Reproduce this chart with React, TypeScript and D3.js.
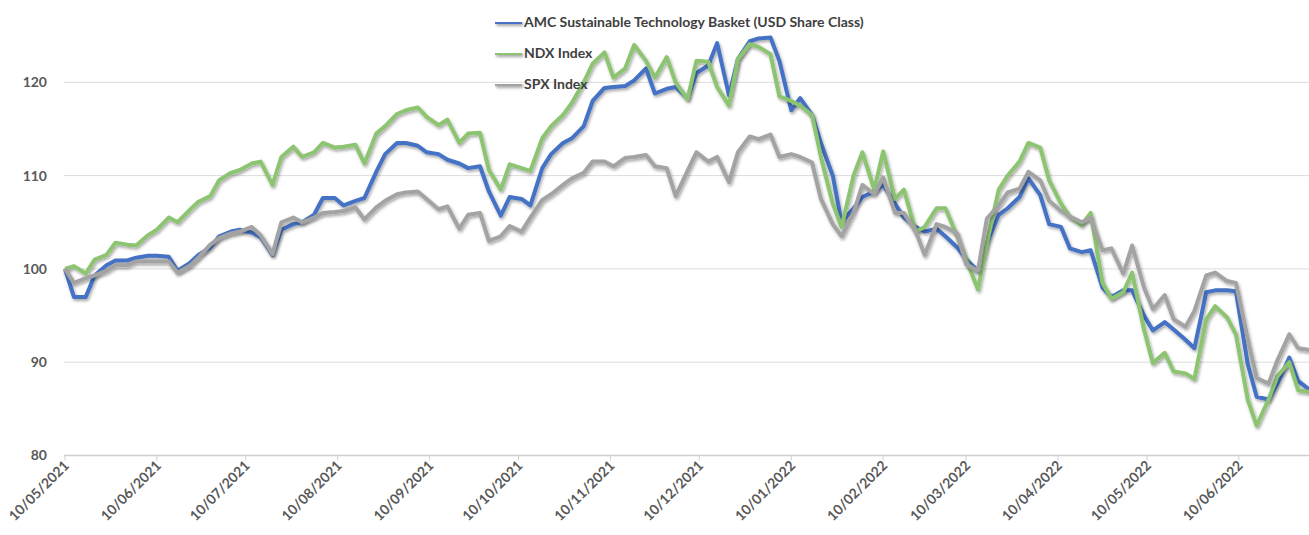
import * as d3 from 'd3';

// sample dates (Mon / Thu)
const dates = [
  '2021-05-10', '2021-05-13', '2021-05-17', '2021-05-20', '2021-05-24', '2021-05-27', '2021-05-31', '2021-06-03',
  '2021-06-07', '2021-06-10', '2021-06-14', '2021-06-17', '2021-06-21', '2021-06-24', '2021-06-28', '2021-07-01',
  '2021-07-05', '2021-07-08', '2021-07-12', '2021-07-15', '2021-07-19', '2021-07-22', '2021-07-26', '2021-07-29',
  '2021-08-02', '2021-08-05', '2021-08-09', '2021-08-12', '2021-08-16', '2021-08-19', '2021-08-23', '2021-08-26',
  '2021-08-30', '2021-09-02', '2021-09-06', '2021-09-09', '2021-09-13', '2021-09-16', '2021-09-20', '2021-09-23',
  '2021-09-27', '2021-09-30', '2021-10-04', '2021-10-07', '2021-10-11', '2021-10-14', '2021-10-18', '2021-10-21',
  '2021-10-25', '2021-10-28', '2021-11-01', '2021-11-04', '2021-11-08', '2021-11-11', '2021-11-15', '2021-11-18',
  '2021-11-22', '2021-11-25', '2021-11-29', '2021-12-02', '2021-12-06', '2021-12-09', '2021-12-13', '2021-12-16',
  '2021-12-20', '2021-12-23', '2021-12-27', '2021-12-30', '2022-01-03', '2022-01-06', '2022-01-10', '2022-01-13',
  '2022-01-17', '2022-01-20', '2022-01-24', '2022-01-27', '2022-01-31', '2022-02-03', '2022-02-07', '2022-02-10',
  '2022-02-14', '2022-02-17', '2022-02-21', '2022-02-24', '2022-02-28', '2022-03-03', '2022-03-07', '2022-03-10',
  '2022-03-14', '2022-03-17', '2022-03-21', '2022-03-24', '2022-03-28', '2022-03-31', '2022-04-04', '2022-04-07',
  '2022-04-11', '2022-04-14', '2022-04-18', '2022-04-21', '2022-04-25', '2022-04-28', '2022-05-02', '2022-05-05',
  '2022-05-09', '2022-05-12', '2022-05-16', '2022-05-19', '2022-05-23', '2022-05-26', '2022-05-30', '2022-06-02',
  '2022-06-06', '2022-06-09', '2022-06-13', '2022-06-16', '2022-06-20', '2022-06-23', '2022-06-27', '2022-06-30',
  '2022-07-04',
];

const amcValues = [
  100.0, 97.0, 97.0, 99.3, 100.4, 100.9, 100.9, 101.2, 101.4, 101.4, 101.3, 99.8, 100.6, 101.5, 102.3, 103.5,
  104.0, 104.2, 103.9, 103.4, 101.5, 104.2, 104.8, 105.0, 105.8, 107.6, 107.6, 106.8, 107.3, 107.6, 110.4, 112.3,
  113.5, 113.5, 113.2, 112.5, 112.3, 111.7, 111.3, 110.8, 111.0, 108.3, 105.7, 107.7, 107.5, 106.8, 110.8, 112.3,
  113.5, 114.0, 115.3, 118.0, 119.4, 119.5, 119.6, 120.2, 121.5, 118.8, 119.3, 119.5, 118.3, 121.0, 121.8, 124.2,
  118.6, 122.5, 124.4, 124.7, 124.8, 122.3, 117.0, 118.3, 116.5, 113.5, 110.0, 105.0, 106.5, 107.7, 108.3, 109.0,
  107.0, 105.5, 104.5, 104.0, 104.3, 103.5, 102.3, 101.0, 99.8, 102.8, 105.8, 106.5, 107.7, 109.7, 107.9, 104.8,
  104.5, 102.2, 101.8, 102.0, 98.0, 97.0, 97.7, 97.7, 95.0, 93.4, 94.3, 93.5, 92.4, 91.5, 97.5, 97.7,
  97.7, 97.6, 89.8, 86.3, 86.0, 87.7, 90.5, 88.0, 87.0,
];

const ndxValues = [
  100.0, 100.3, 99.5, 101.0, 101.5, 102.8, 102.6, 102.5, 103.6, 104.2, 105.5, 105.0, 106.3, 107.2, 107.8, 109.5,
  110.3, 110.6, 111.3, 111.5, 109.0, 112.0, 113.1, 112.0, 112.5, 113.5, 113.0, 113.1, 113.3, 111.3, 114.5, 115.3,
  116.6, 117.0, 117.3, 116.3, 115.4, 116.0, 113.5, 114.5, 114.6, 110.6, 108.5, 111.2, 110.8, 110.5, 114.0, 115.3,
  116.5, 117.8, 120.0, 122.0, 123.2, 120.5, 121.5, 124.0, 122.3, 120.5, 122.7, 120.0, 118.2, 122.3, 122.2, 119.5,
  117.5, 122.5, 124.1, 123.8, 123.0, 118.5, 118.0, 117.5, 116.5, 112.0, 107.0, 104.5, 110.0, 112.5, 108.5, 112.6,
  107.5, 108.5, 104.0, 104.5, 106.5, 106.5, 103.5, 101.0, 97.8, 102.8, 108.5, 110.0, 111.5, 113.5, 113.0, 109.5,
  107.0, 105.6, 104.7, 106.0, 98.5, 96.8, 97.5, 99.6, 93.5, 89.9, 91.0, 89.0, 88.8, 88.2, 94.6, 96.0,
  94.8, 93.0, 86.0, 83.2, 86.0, 88.5, 90.0, 87.0, 86.8,
];

const spxValues = [
  100.0, 98.5, 99.0, 99.3, 99.8, 100.4, 100.4, 100.8, 100.8, 100.8, 100.8, 99.6, 100.3, 101.2, 102.6, 103.3,
  103.8, 104.0, 104.5, 103.6, 101.6, 105.0, 105.5, 105.0, 105.5, 106.0, 106.1, 106.2, 106.6, 105.3, 106.6, 107.3,
  108.0, 108.2, 108.3, 107.5, 106.4, 106.7, 104.3, 105.8, 106.0, 103.0, 103.5, 104.6, 104.0, 105.5, 107.4, 108.0,
  109.0, 109.7, 110.3, 111.5, 111.5, 111.0, 111.9, 112.0, 112.2, 111.0, 110.8, 107.8, 110.5, 112.5, 111.5, 112.0,
  109.3, 112.5, 114.2, 113.9, 114.4, 112.0, 112.3, 112.0, 111.4, 107.5, 104.8, 103.5, 106.0, 109.0, 108.0, 109.8,
  106.0, 106.0, 104.0, 101.5, 104.8, 104.5, 103.8, 100.5, 99.8, 105.4, 106.8, 108.2, 108.6, 110.4, 109.5, 107.3,
  106.2, 105.6, 105.0, 105.5, 102.0, 102.2, 99.5, 102.5, 98.0, 95.7, 97.2, 94.6, 93.8, 95.5, 99.3, 99.6,
  98.7, 98.5, 92.5, 88.3, 87.7, 90.2, 93.0, 91.5, 91.3,
];

const seriesNames = ['AMC Sustainable Technology Basket (USD Share Class)', 'NDX Index', 'SPX Index'];
const seriesColors = ['#4472C4', '#8DC472', '#A3A3A3'];

const yTicks = [80, 90, 100, 110, 120];
const xTicks = [
  '2021-05-10', '2021-06-10', '2021-07-10', '2021-08-10', '2021-09-10', '2021-10-10', '2021-11-10',
  '2021-12-10', '2022-01-10', '2022-02-10', '2022-03-10', '2022-04-10', '2022-05-10', '2022-06-10',
];

const W = 1309;
const H = 535;
const parse = d3.timeParse('%Y-%m-%d');
const fmt = d3.timeFormat('%d/%m/%Y');
const font = 'Lato, "Open Sans", sans-serif';

export default function App() {
  const x = d3.scaleTime()
    .domain([parse('2021-05-10')!, parse('2022-07-04')!])
    .range([65, 1310]);
  const y = d3.scaleLinear().domain([80, 120]).range([455.5, 82.3]);

  const series = [amcValues, ndxValues, spxValues].map((vals, i) => ({
    name: seriesNames[i],
    color: seriesColors[i],
    points: vals.map((v, j) => ({ date: parse(dates[j])!, value: v })),
  }));

  const line = d3.line<{ date: Date; value: number }>()
    .x(d => x(d.date))
    .y(d => y(d.value));

  const x0 = x.range()[0];

  return (
    <svg width={W} height={H} style={{ position: 'absolute', left: 0, top: 0, background: '#fff' }}>
      <defs>
        <filter id="shadow" filterUnits="userSpaceOnUse" x={0} y={0} width={W} height={H}>
          <feDropShadow dx={1.2} dy={2} stdDeviation={1.4} floodColor="#000" floodOpacity={0.35} />
        </filter>
      </defs>

      {/* grid */}
      {yTicks.map(t => (
        <line key={t} x1={x0 - 1} x2={W} y1={y(t)} y2={y(t)}
          stroke={t === 80 ? '#d0d0d0' : '#dcdcdc'} strokeWidth={t === 80 ? 1.5 : 1} />
      ))}
      {yTicks.map(t => (
        <text key={'l' + t} x={47} y={y(t)} dy="0.35em" textAnchor="end"
          fontFamily={font} fontWeight={700} fontSize={14} fill="#595959">{t}</text>
      ))}

      {/* x axis ticks + labels */}
      {xTicks.map(s => {
        const px = x(parse(s)!);
        return (
          <g key={s}>
            <line x1={px} x2={px} y1={y(80)} y2={y(80) + 5} stroke="#d0d0d0" strokeWidth={1} />
            <text transform={`translate(${px + 5},${y(80) + 11}) rotate(-45)`} textAnchor="end"
              fontFamily={font} fontWeight={700} fontSize={14} fill="#595959">{fmt(parse(s)!)}</text>
          </g>
        );
      })}

      {/* series */}
      {series.map(s => (
        <path key={s.name} d={line(s.points) ?? ''} fill="none" stroke={s.color} strokeWidth={4}
          strokeLinejoin="round" filter="url(#shadow)" />
      ))}

      {/* legend */}
      {series.map((s, i) => (
        <g key={'lg' + i} transform={`translate(495,${22 + i * 31})`}>
          <line x1={0} x2={27} y1={0} y2={0} stroke={s.color} strokeWidth={4} filter="url(#shadow)" />
          <text x={29} y={0} dy="0.35em" fontFamily={font} fontWeight={700} fontSize={14} fill="#404040">
            {s.name}
          </text>
        </g>
      ))}
    </svg>
  );
}
